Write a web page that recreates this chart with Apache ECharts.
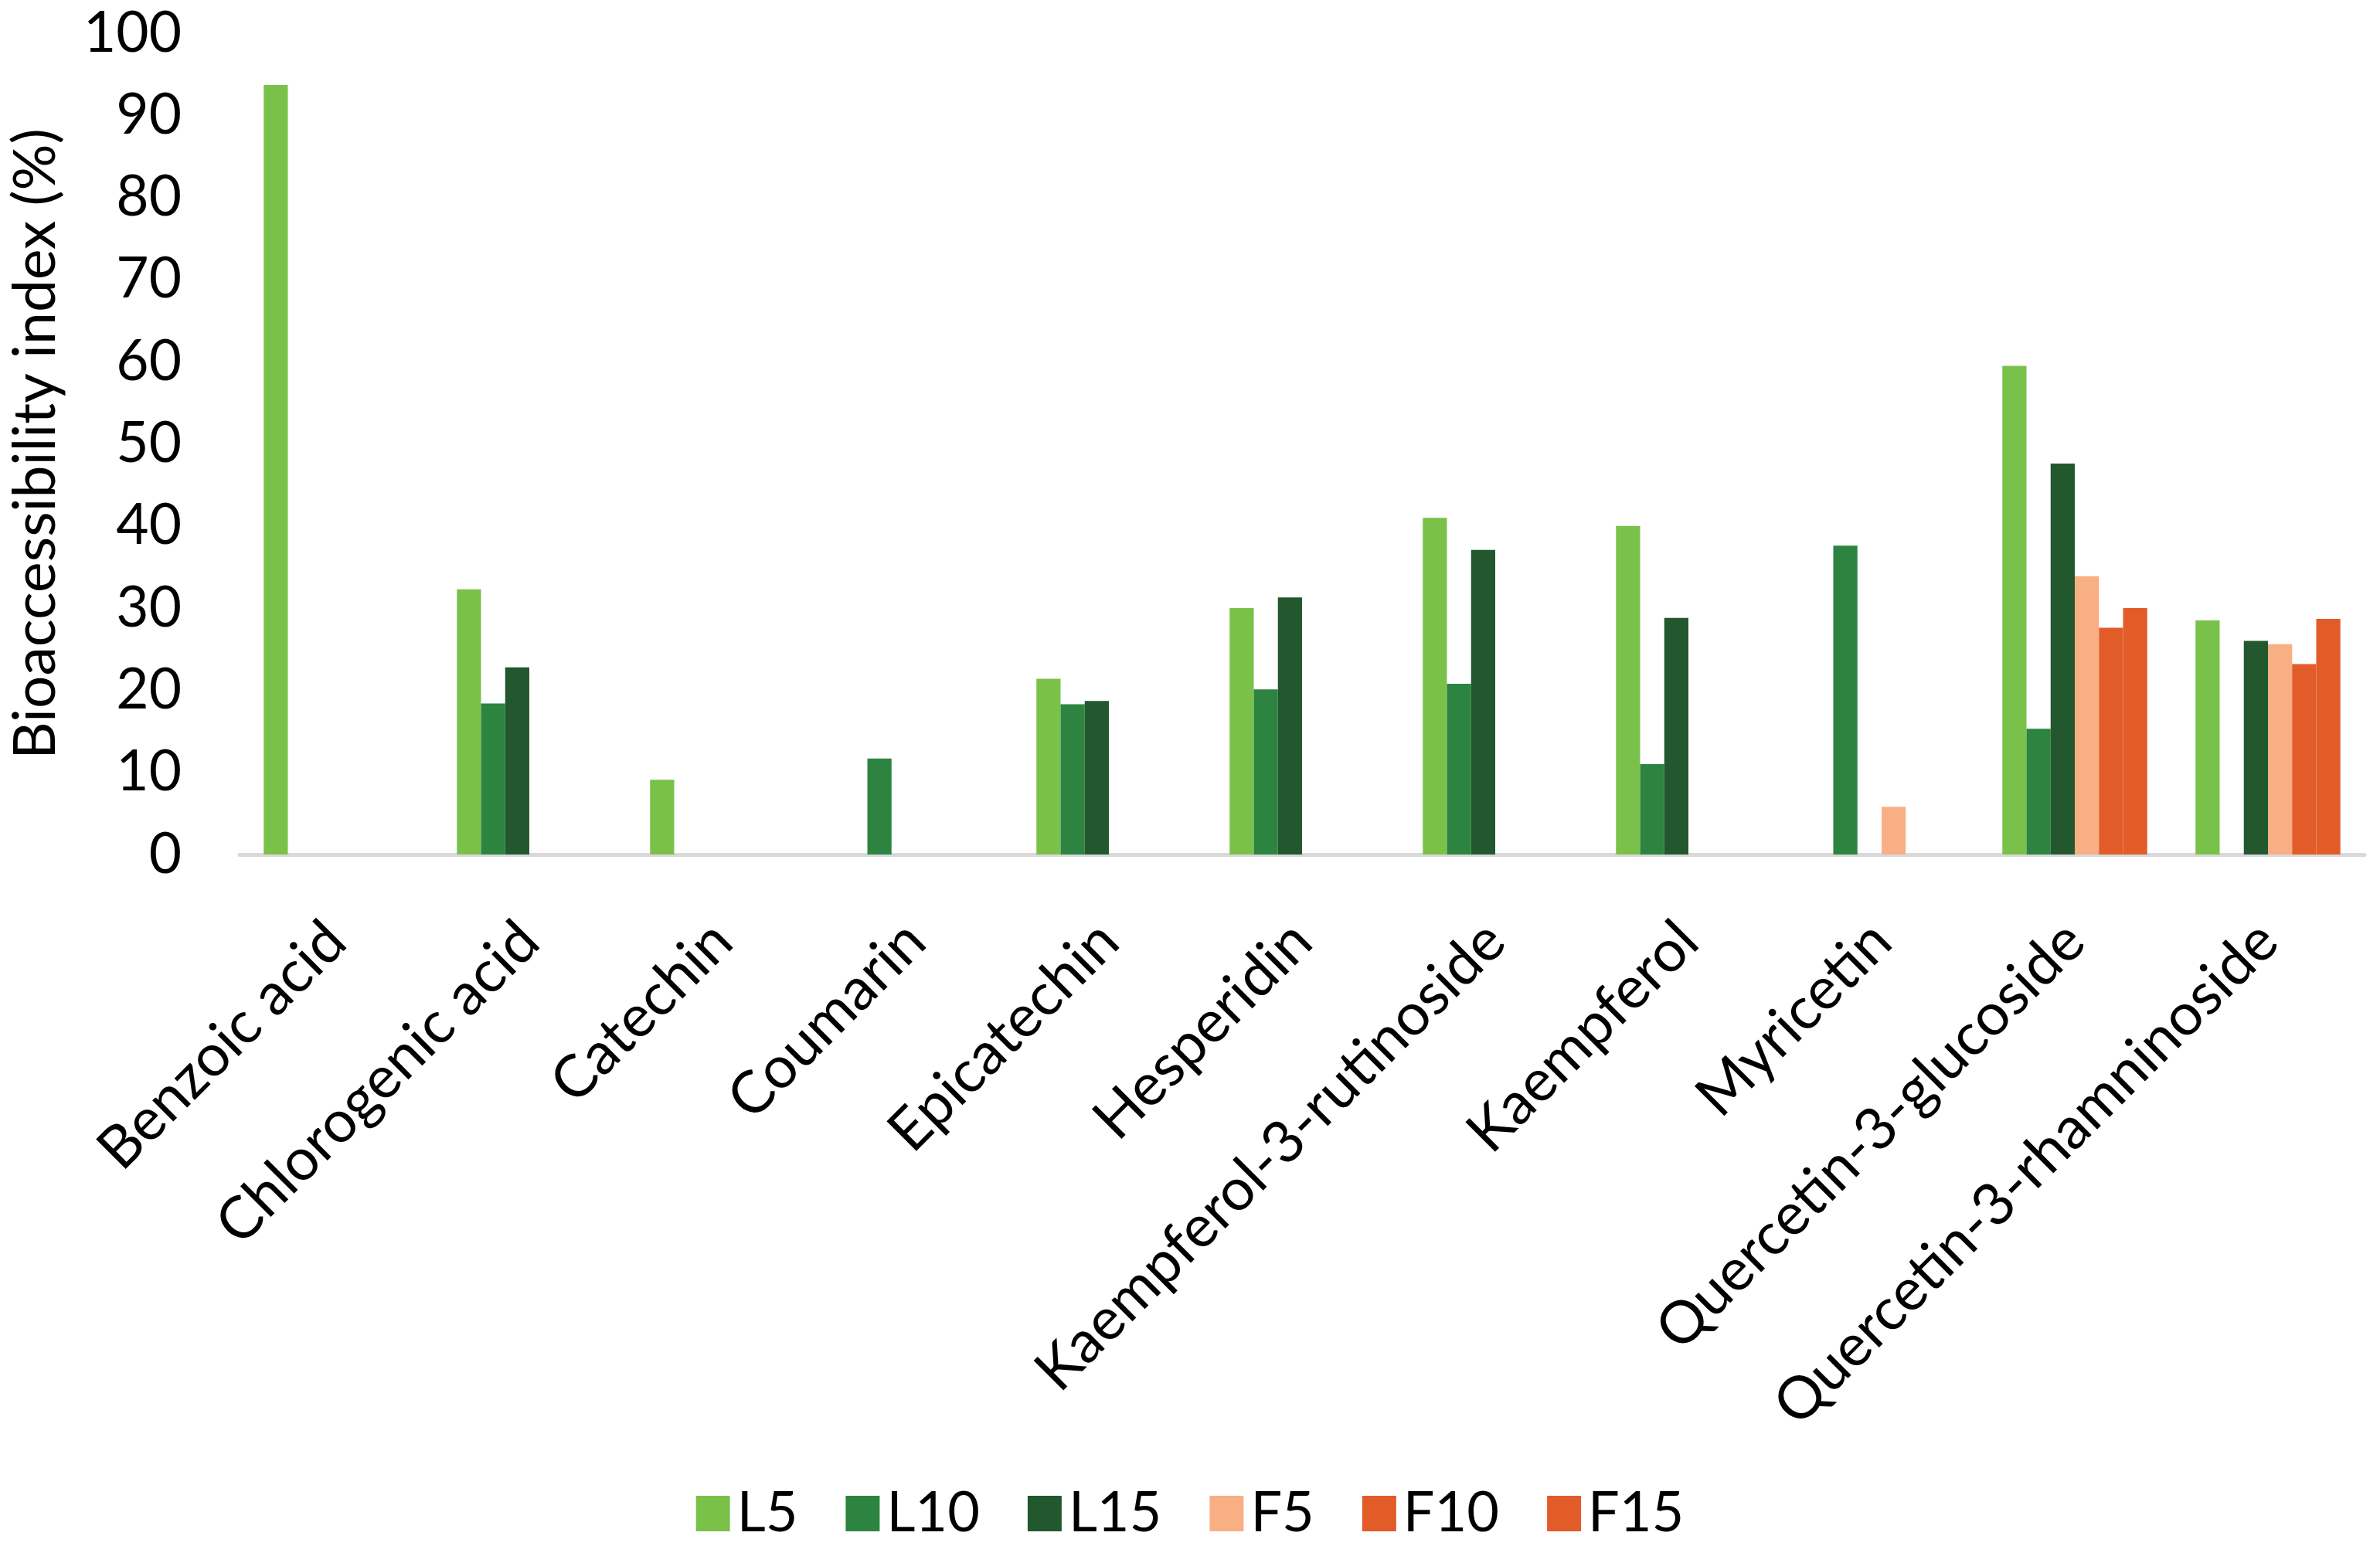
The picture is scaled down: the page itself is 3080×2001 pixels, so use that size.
<!DOCTYPE html>
<html>
<head>
<meta charset="utf-8">
<script src="https://cdn.jsdelivr.net/npm/echarts@6/dist/echarts.min.js"></script>
<style>
html,body{margin:0;padding:0;background:#fff;}
#chart{width:3080px;height:2001px;}
</style>
</head>
<body>
<div id="chart"></div>
<script>
const categories = ['Benzoic acid','Chlorogenic acid','Catechin','Coumarin','Epicatechin','Hesperidin','Kaempferol-3-rutinoside','Kaempferol','Myricetin','Quercetin-3-glucoside','Quercetin-3-rhamninoside'];
const seriesNames = ['L5','L10','L15','F5','F10','F15'];
const L5  = [93.7, 32.3, 9.1, null, 21.4, 30.0, 41.0, 40.0, null, 59.5, 28.5];
const L10 = [null, 18.4, null, 11.7, 18.3, 20.1, 20.8, 11.0, 37.6, 15.3, null];
const L15 = [null, 22.8, null, null, 18.7, 31.3, 37.1, 28.8, null, 47.6, 26.0];
const F5  = [null, null, null, null, null, null, null, null, 5.8, 33.9, 25.6];
const F10 = [null, null, null, null, null, null, null, null, null, 27.6, 23.2];
const F15 = [null, null, null, null, null, null, null, null, null, 30.0, 28.7];
const yTicks = [0,10,20,30,40,50,60,70,80,90,100];
const colors = ['#7AC14A','#2D8440','#23572E','#F8AF84','#E25C29','#E25C29'];
const values = [L5, L10, L15, F5, F10, F15];

const chart = echarts.init(document.getElementById('chart'));
const font = 'Lato, "Open Sans", sans-serif';
chart.setOption({
  backgroundColor: '#ffffff',
  animation: false,
  color: colors,
  grid: {left: 310, right: 20, top: 43, bottom: 895, containLabel: false},
  legend: {
    data: seriesNames,
    left: 'center',
    top: 1918,
    itemWidth: 44,
    itemHeight: 46,
    itemGap: 62,
    icon: 'rect',
    textStyle: {fontFamily: font, fontSize: 72, color: '#000', padding: [0,0,0,4]}
  },
  xAxis: {
    type: 'category',
    data: categories,
    axisLine: {show: true, lineStyle: {color: '#D9D9D9', width: 5}},
    axisTick: {show: false},
    axisLabel: {interval: 0, rotate: 45, margin: 100, fontFamily: font, fontSize: 76, color: '#000'}
  },
  yAxis: {
    type: 'value',
    min: yTicks[0],
    max: yTicks[yTicks.length-1],
    interval: 10,
    name: 'Bioaccessibility index (%)',
    nameLocation: 'middle',
    nameRotate: 90,
    nameGap: 226,
    nameTextStyle: {fontFamily: font, fontSize: 75, color: '#000'},
    axisLine: {show: false},
    axisTick: {show: false},
    splitLine: {show: false},
    axisLabel: {margin: 75, fontFamily: font, fontSize: 73, color: '#000'}
  },
  series: seriesNames.map((n, i) => ({
    name: n,
    type: 'bar',
    data: values[i],
    barGap: '0%',
    barCategoryGap: '25%',
    itemStyle: {color: colors[i]}
  }))
});
</script>
</body>
</html>
